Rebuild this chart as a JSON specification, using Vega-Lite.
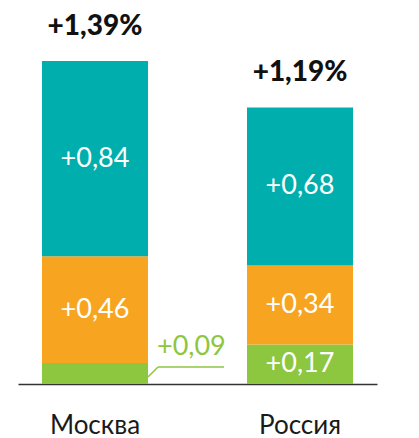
{
  "$schema": "https://vega.github.io/schema/vega-lite/v6.json",
  "autosize": "none",
  "width": 359,
  "height": 384,
  "padding": {"left": 18, "top": 0, "right": 42, "bottom": 54},
  "background": "white",
  "config": {"view": {"stroke": null}, "font": "Lato"},
  "data": {
    "values": [
      {"city": "Москва", "seg": 1, "value": 0.09},
      {"city": "Москва", "seg": 2, "value": 0.46},
      {"city": "Москва", "seg": 3, "value": 0.84},
      {"city": "Россия", "seg": 1, "value": 0.17},
      {"city": "Россия", "seg": 2, "value": 0.34},
      {"city": "Россия", "seg": 3, "value": 0.68}
    ]
  },
  "transform": [
    {"stack": "value", "groupby": ["city"], "sort": [{"field": "seg"}], "as": ["v0", "v1"]},
    {"calculate": "(datum.v0 + datum.v1) / 2", "as": "mid"},
    {"calculate": "'+' + replace(format(datum.value, '.2f'), '.', ',')", "as": "lbl"}
  ],
  "encoding": {
    "x": {
      "field": "city", "type": "nominal", "sort": ["Москва", "Россия"],
      "scale": {"paddingInner": 0.483, "paddingOuter": 0.117},
      "axis": {
        "title": null, "ticks": false, "labelAngle": 0, "domainColor": "#333333", "domainWidth": 1.5,
        "labelFontSize": 26, "labelColor": "#1a1a1a", "labelPadding": 28, "labelFont": "Lato"
      }
    }
  },
  "layer": [
    {
      "mark": {"type": "bar"},
      "encoding": {
        "y": {"field": "v0", "type": "quantitative", "scale": {"domain": [0, 1.652], "nice": false}, "axis": null},
        "y2": {"field": "v1"},
        "color": {"field": "seg", "type": "nominal", "scale": {"domain": [1, 2, 3], "range": ["#8DC63F", "#F7A520", "#00AFAD"]}, "legend": null}
      }
    },
    {
      "transform": [{"filter": "datum.value >= 0.1"}],
      "mark": {"type": "text", "color": "white", "fontSize": 27, "baseline": "middle", "align": "center"},
      "encoding": {
        "y": {"field": "mid", "type": "quantitative"},
        "text": {"field": "lbl"}
      }
    },
    {
      "transform": [{"filter": "datum.value < 0.1"}],
      "mark": {"type": "text", "color": "#8DC63F", "fontSize": 27, "baseline": "middle", "align": "left", "dx": 62, "dy": -26.5},
      "encoding": {
        "y": {"field": "mid", "type": "quantitative"},
        "text": {"field": "lbl"}
      }
    },
    {
      "transform": [{"filter": "datum.value < 0.1"}],
      "mark": {"type": "rule", "color": "#8DC63F", "strokeWidth": 1.5, "xOffset": 53, "x2Offset": 63, "yOffset": 3.5, "y2Offset": -6.5},
      "encoding": {
        "y": {"field": "mid", "type": "quantitative"},
        "y2": {"field": "mid"},
        "x2": {"field": "city"}
      }
    },
    {
      "transform": [{"filter": "datum.value < 0.1"}],
      "mark": {"type": "rule", "color": "#8DC63F", "strokeWidth": 1.5, "xOffset": 63, "x2Offset": 129, "yOffset": -6.5, "y2Offset": -6.5},
      "encoding": {
        "y": {"field": "mid", "type": "quantitative"},
        "x2": {"field": "city"}
      }
    },
    {
      "transform": [
        {"aggregate": [{"op": "sum", "field": "value", "as": "total"}], "groupby": ["city"]},
        {"calculate": "'+' + replace(format(datum.total, '.2f'), '.', ',') + '%'", "as": "tl"}
      ],
      "mark": {"type": "text", "color": "#111111", "fontSize": 28, "fontWeight": 900, "baseline": "alphabetic", "align": "center", "dy": -26},
      "encoding": {
        "y": {"field": "total", "type": "quantitative"},
        "text": {"field": "tl"}
      }
    }
  ]
}
